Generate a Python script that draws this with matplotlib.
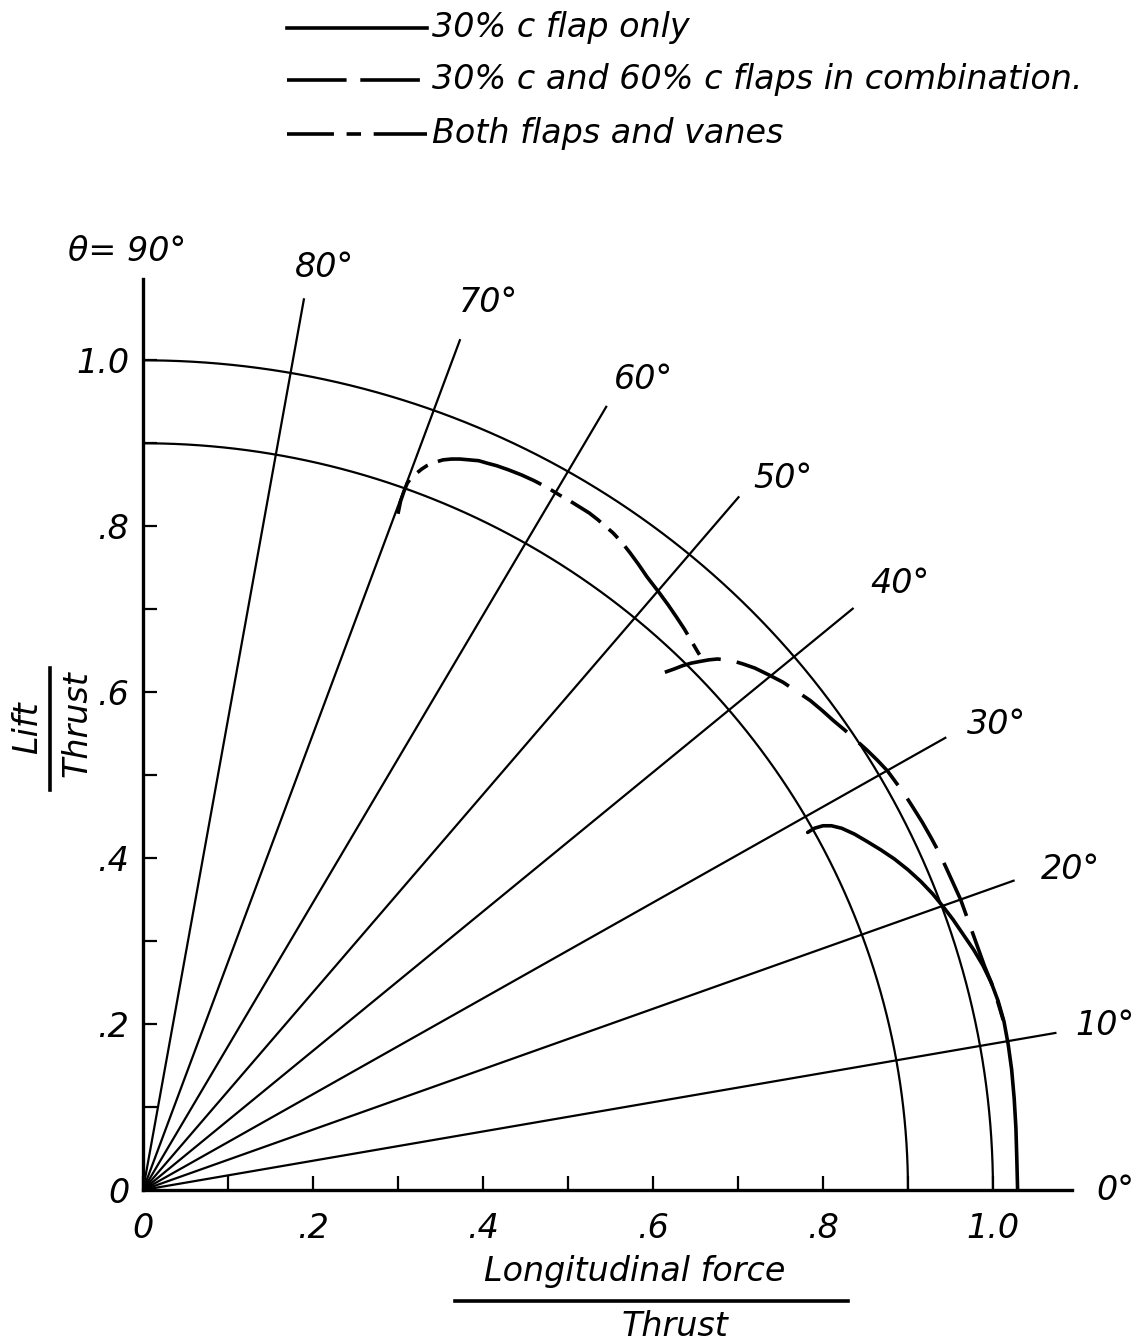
import numpy as np
import matplotlib
matplotlib.use("Agg")
import matplotlib.pyplot as plt
from matplotlib.lines import Line2D

plt.rcParams['font.family'] = ['DejaVu Sans']

# ---------------- data ----------------
ray_angles = [10, 20, 30, 40, 50, 60, 70, 80]
ray_length = 1.09
arc_radii = [0.9, 1.0]

angle_label_text = ['θ= 90°', '80°', '70°', '60°', '50°', '40°', '30°', '20°', '10°', '0°']
angle_label_x = [-0.019, 0.213, 0.406, 0.589, 0.753, 0.891, 1.004, 1.091, 1.132, 1.144]
angle_label_y = [1.131, 1.112, 1.070, 0.977, 0.858, 0.731, 0.561, 0.386, 0.198, 0.0]

# 30% c flap only (solid)
flap30_x = [0.782, 0.790, 0.800, 0.810, 0.822, 0.837, 0.852, 0.868, 0.884, 0.900,
            0.915, 0.929, 0.941, 0.953, 0.965, 0.977, 0.988, 0.998, 1.006, 1.013,
            1.018, 1.022, 1.025, 1.027, 1.028, 1.029]
flap30_y = [0.431, 0.436, 0.439, 0.439, 0.436, 0.429, 0.420, 0.410, 0.399, 0.386,
            0.372, 0.357, 0.342, 0.326, 0.308, 0.290, 0.271, 0.250, 0.228, 0.203,
            0.175, 0.145, 0.110, 0.075, 0.040, 0.0]

# 30% c and 60% c flaps in combination (dashed)
combo_x = [0.614, 0.625, 0.635, 0.645, 0.655, 0.666, 0.676, 0.685, 0.693, 0.706,
           0.720, 0.736, 0.753, 0.769, 0.785, 0.799, 0.812, 0.826, 0.840, 0.852,
           0.864, 0.876, 0.886, 0.896, 0.906, 0.917, 0.927, 0.937, 0.946, 0.954,
           0.962, 0.969, 0.976, 0.983, 0.990, 0.998, 1.005, 1.012]
combo_y = [0.624, 0.628, 0.632, 0.635, 0.637, 0.639, 0.640, 0.639, 0.638, 0.634,
           0.629, 0.621, 0.612, 0.601, 0.590, 0.578, 0.566, 0.554, 0.541, 0.530,
           0.518, 0.505, 0.491, 0.477, 0.461, 0.443, 0.425, 0.406, 0.386, 0.368,
           0.350, 0.330, 0.310, 0.290, 0.270, 0.250, 0.229, 0.205]

# Both flaps and vanes (dash-dot)
vanes_x = [0.300, 0.303, 0.307, 0.311, 0.316, 0.322, 0.328, 0.334, 0.343, 0.353,
           0.363, 0.373, 0.384, 0.395, 0.405, 0.416, 0.430, 0.445, 0.460, 0.475,
           0.491, 0.503, 0.514, 0.525, 0.535, 0.544, 0.553, 0.563, 0.573, 0.583,
           0.593, 0.608, 0.618, 0.628, 0.637, 0.645, 0.653, 0.661]
vanes_y = [0.815, 0.830, 0.842, 0.852, 0.859, 0.864, 0.869, 0.873, 0.877, 0.880,
           0.881, 0.881, 0.880, 0.879, 0.876, 0.873, 0.868, 0.862, 0.855, 0.847,
           0.837, 0.830, 0.823, 0.816, 0.808, 0.800, 0.792, 0.781, 0.768, 0.754,
           0.739, 0.719, 0.705, 0.690, 0.676, 0.662, 0.648, 0.635]

xtick_vals = [0.0, 0.1, 0.2, 0.3, 0.4, 0.5, 0.6, 0.7, 0.8, 0.9, 1.0]
tick_labels = ['0', '', '.2', '', '.4', '', '.6', '', '.8', '', '1.0']

legend_labels = ['30% c flap only',
                 '30% c and 60% c flaps in combination.',
                 'Both flaps and vanes']

# ---------------- figure ----------------
W, H = 1140, 1344
fig = plt.figure(figsize=(W / 100, H / 100), dpi=100)
ax = fig.add_axes([143 / W, (H - 1190) / H, 929 / W, 911 / H])
ax.set_xlim(0, 1.093)
ax.set_ylim(0, 1.098)

grid_lw = 1.6
curve_lw = 2.6

# arcs
for r in arc_radii:
    th = np.linspace(0, np.pi / 2, 300)
    ax.plot(r * np.cos(th), r * np.sin(th), color='black', lw=grid_lw, solid_capstyle='butt')

# rays
for a in ray_angles:
    t = np.deg2rad(a)
    ax.plot([0, ray_length * np.cos(t)], [0, ray_length * np.sin(t)], color='black', lw=grid_lw)

# curves
ax.plot(flap30_x, flap30_y, color='black', lw=curve_lw, solid_capstyle='round',
        solid_joinstyle='round')
ax.plot(combo_x, combo_y, color='black', lw=curve_lw, linestyle=(0, (16, 4.5)),
        dash_joinstyle='round')
ax.plot(vanes_x, vanes_y, color='black', lw=curve_lw, linestyle=(0, (10, 3, 3.5, 3, 30, 3, 3.5, 3)),
        dash_joinstyle='round')

# angle labels
for t, x, y in zip(angle_label_text, angle_label_x, angle_label_y):
    ax.text(x, y, t, fontsize=24, style='italic', ha='center', va='center', clip_on=False)

# axes styling
for s in ['top', 'right']:
    ax.spines[s].set_visible(False)
for s in ['left', 'bottom']:
    ax.spines[s].set_linewidth(2.4)
ax.set_xticks(xtick_vals)
ax.set_xticklabels(tick_labels, fontsize=24, style='italic')
ax.set_yticks(xtick_vals)
ax.set_yticklabels(tick_labels, fontsize=24, style='italic')
ax.tick_params(axis='x', direction='in', length=10, width=1.6, pad=16)
ax.tick_params(axis='y', direction='in', length=10, width=1.6, pad=10)

# x label (fraction)
fig.text(635 / W, 1 - 1272 / H, 'Longitudinal force', fontsize=24, style='italic',
         ha='center', va='center')
fig.add_artist(Line2D([455 / W, 848 / W], [1 - 1301 / H, 1 - 1301 / H], color='black', lw=2.6))
fig.text(675 / W, 1 - 1326 / H, 'Thrust', fontsize=24, style='italic', ha='center', va='center')

# y label (fraction, rotated)
fig.text(28 / W, 1 - 728 / H, 'Lift', fontsize=24, style='italic', rotation=90,
         ha='center', va='center')
fig.add_artist(Line2D([50 / W, 50 / W], [1 - 668 / H, 1 - 790 / H], color='black', lw=2.6))
fig.text(77 / W, 1 - 724 / H, 'Thrust', fontsize=24, style='italic', rotation=90,
         ha='center', va='center')

# legend (manual, above plot)
leg_y = [28, 80, 134]
leg_styles = ['-', (0, (16.5, 3.8, 16.5, 10)), (0, (13, 3.5, 4, 3.5, 18, 10))]
for yy, lab, ls in zip(leg_y, legend_labels, leg_styles):
    fig.add_artist(Line2D([287 / W, 427 / W], [1 - yy / H, 1 - yy / H], color='black',
                          lw=2.6, linestyle=ls))
    fig.text(432 / W, 1 - yy / H, lab, fontsize=24, style='italic', ha='left', va='center')

fig.savefig('out.png', dpi=100)
